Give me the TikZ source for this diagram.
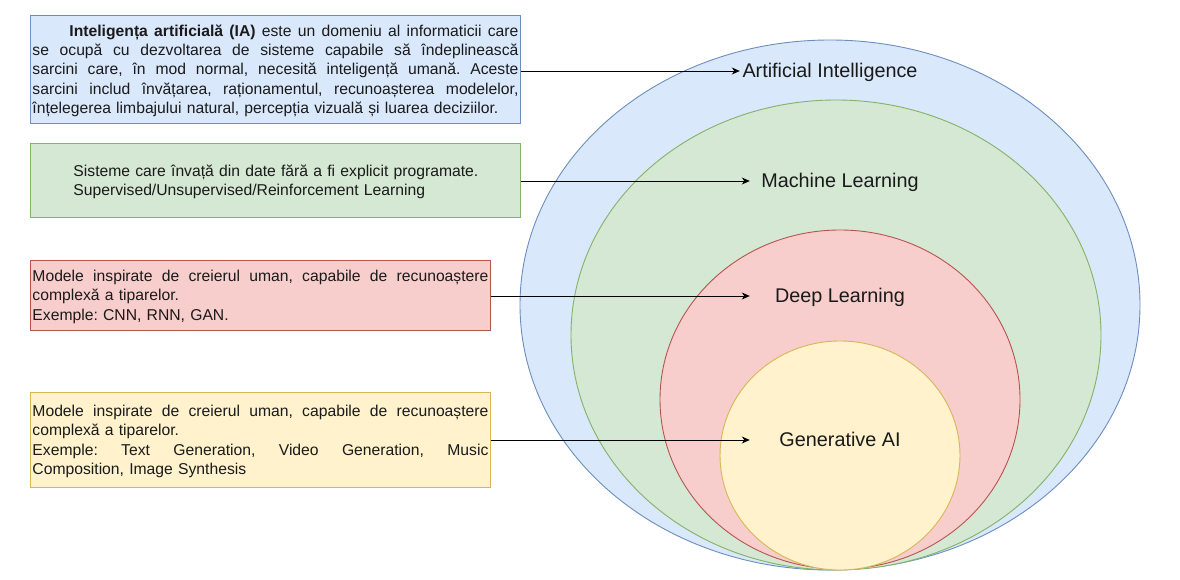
\documentclass[tikz,border=0pt]{standalone}
\usepackage{fontspec}
\setmainfont{Liberation Sans}
\usetikzlibrary{shapes.geometric,arrows.meta}
\definecolor{aifill}{HTML}{DAE8FC}
\definecolor{aistroke}{HTML}{6C8EBF}
\definecolor{mlfill}{HTML}{D5E8D4}
\definecolor{mlstroke}{HTML}{82B366}
\definecolor{dlfill}{HTML}{F8CECC}
\definecolor{dlstroke}{HTML}{B85450}
\definecolor{genfill}{HTML}{FFF2CC}
\definecolor{genstroke}{HTML}{D6B656}
\definecolor{txt}{HTML}{1A1A1A}
\newcommand\jus[2]{\leavevmode\hbox to #1{\spaceskip=0.278em plus 1fil\relax #2}}
\newcommand\hstrut{\rule[-4.1pt]{0pt}{19.25pt}}
\newcommand\lstrut{\rule[-5pt]{0pt}{23.76pt}}
\tikzset{
  layer/.style={ellipse, inner sep=0pt, line width=0.9pt},
  desc/.style={rectangle, inner xsep=2pt, inner ysep=0pt, line width=0.9pt,
    font=\fontsize{15.7}{19.25}\selectfont\frenchspacing, text=txt, align=left, anchor=north west},
  lbl/.style={font=\fontsize{19.8}{23.76}\selectfont, text=txt, inner sep=0pt, minimum width=180pt},
  arr/.style={-{Stealth[length=8pt,width=7pt,inset=2.5pt]}, line width=0.9pt, black}
}
\begin{document}
\begin{tikzpicture}[x=1pt,y=-1pt]
\useasboundingbox[fill=white] (0,0) rectangle (1180,580);
% nested ellipses
\node[layer, draw=aistroke, fill=aifill, minimum width=620pt, minimum height=530pt] (aiell) at (830,305) {};
\node[layer, draw=mlstroke, fill=mlfill, minimum width=530pt, minimum height=470pt] (mlell) at (836,335) {};
\node[layer, draw=dlstroke, fill=dlfill, minimum width=360pt, minimum height=339pt] (dlell) at (840,399.5) {};
\node[layer, draw=genstroke, fill=genfill, minimum width=240pt, minimum height=229pt] (genell) at (840,455.5) {};
% labels
\node[lbl] (ailbl) at (830,71) {\lstrut Artificial Intelligence};
\node[lbl] (mllbl) at (840,181) {\lstrut Machine Learning};
\node[lbl] (dllbl) at (840,296) {\lstrut Deep Learning};
\node[lbl] (genlbl) at (840,440) {\lstrut Generative AI};
% description boxes
\node[desc, draw=aistroke, fill=aifill, minimum width=490pt, minimum height=108pt, text width=486pt] (aibox) at (30,15) {%
\hstrut\hspace*{37pt}\jus{449pt}{\textbf{Inteligența artificială (IA)} este un domeniu al informaticii care}\\
\jus{486pt}{se ocupă cu dezvoltarea de sisteme capabile să îndeplinească}\\
\jus{486pt}{sarcini care, în mod normal, necesită inteligență umană. Aceste}\\
\jus{486pt}{sarcini includ învățarea, raționamentul, recunoașterea modelelor,}\\
înțelegerea limbajului natural, percepția vizuală și luarea deciziilor.\hstrut};
\node[desc, draw=mlstroke, fill=mlfill, minimum width=490pt, minimum height=74pt, text width=486pt] (mlbox) at (30,143) {%
\hstrut\hspace*{41pt}Sisteme care învață din date fără a fi explicit programate.\\
\hspace*{41pt}Supervised/Unsupervised/Reinforcement Learning\hstrut};
\node[desc, draw=dlstroke, fill=dlfill, minimum width=460pt, minimum height=70pt, text width=456pt] (dlbox) at (30,260) {%
\hstrut\jus{456pt}{Modele inspirate de creierul uman, capabile de recunoaștere}\\
complexă a tiparelor.\\
Exemple: CNN, RNN, GAN.\hstrut};
\node[desc, draw=genstroke, fill=genfill, minimum width=460pt, minimum height=95pt, text width=456pt] (genbox) at (30,392) {%
\hstrut\jus{456pt}{Modele inspirate de creierul uman, capabile de recunoaștere}\\
complexă a tiparelor.\\
\jus{456pt}{Exemple: Text Generation, Video Generation, Music}\\
Composition, Image Synthesis\hstrut};
% connectors
\draw[arr] (aibox.east |- ailbl.west) -- (ailbl.west);
\draw[arr] (mlbox.east |- mllbl.west) -- (mllbl.west);
\draw[arr] (dlbox.east |- dllbl.west) -- (dllbl.west);
\draw[arr] (genbox.east |- genlbl.west) -- (genlbl.west);
\end{tikzpicture}
\end{document}
